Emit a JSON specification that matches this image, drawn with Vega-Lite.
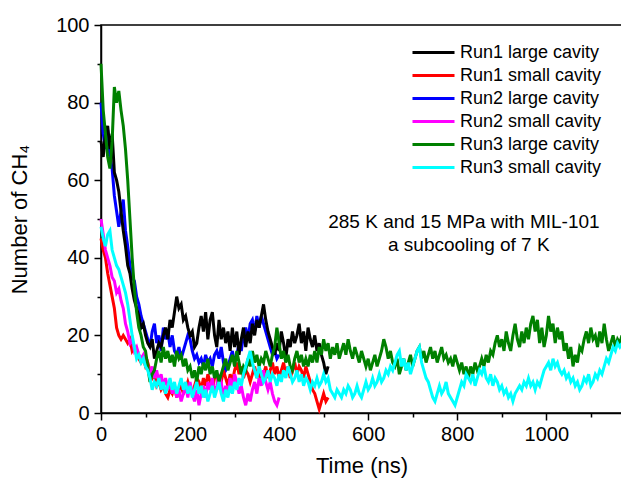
{
  "$schema": "https://vega.github.io/schema/vega-lite/v6.json",
  "width": 521,
  "height": 388,
  "autosize": "none",
  "padding": {"left": 101, "top": 25, "right": 0, "bottom": 67},
  "background": "white",
  "config": {
    "font": "Liberation Sans",
    "view": {"stroke": "black", "strokeWidth": 1.5},
    "axis": {"grid": false, "domainColor": "black", "domainWidth": 1.5, "tickColor": "black", "tickWidth": 1.5, "labelColor": "black", "titleColor": "black", "labelFont": "Liberation Sans", "titleFont": "Liberation Sans", "labelFontSize": 20, "titleFontSize": 22, "titleFontWeight": "normal"},
    "legend": {"labelFont": "Liberation Sans"}
  },
  "encoding": {
    "x": {"field": "t", "type": "quantitative", "scale": {"domain": [0, 1170], "nice": false, "zero": false}, "axis": {"title": "Time (ns)", "format": "d", "values": [0,100,200,300,400,500,600,700,800,900,1000,1100], "labelExpr": "datum.value % 200 === 0 ? datum.label : ''", "tickSize": {"condition": {"test": "datum.value % 200 === 0", "value": 7}, "value": 4}, "labelPadding": 4, "titlePadding": 11, "labelFlush": false, "labelOverlap": false}},
    "y": {"field": "n", "type": "quantitative", "scale": {"domain": [0, 100], "nice": false}, "axis": {"title": "Number of CH₄", "values": [0,10,20,30,40,50,60,70,80,90,100], "labelExpr": "datum.value % 20 === 0 ? datum.label : ''", "tickSize": {"condition": {"test": "datum.value % 20 === 0", "value": 7}, "value": 4}, "labelPadding": 5, "titlePadding": 24, "labelOverlap": false}}
  },
  "layer": [
    {
      "data": {"values": [{"t":0,"n":80},{"t":5,"n":72},{"t":10,"n":68},{"t":15,"n":73},{"t":20,"n":66},{"t":25,"n":63},{"t":30,"n":56},{"t":35,"n":52},{"t":40,"n":48},{"t":45,"n":52},{"t":50,"n":55},{"t":55,"n":47},{"t":60,"n":43},{"t":65,"n":38},{"t":70,"n":35},{"t":75,"n":34},{"t":80,"n":30},{"t":85,"n":28},{"t":90,"n":25},{"t":95,"n":23},{"t":100,"n":21},{"t":105,"n":19},{"t":110,"n":17},{"t":115,"n":21},{"t":120,"n":23},{"t":125,"n":18},{"t":130,"n":20},{"t":135,"n":16},{"t":140,"n":22},{"t":145,"n":19},{"t":150,"n":21},{"t":155,"n":17},{"t":160,"n":20},{"t":165,"n":16},{"t":170,"n":15},{"t":175,"n":17},{"t":180,"n":14},{"t":185,"n":16},{"t":190,"n":18},{"t":195,"n":20},{"t":200,"n":19},{"t":205,"n":16},{"t":210,"n":14},{"t":215,"n":15},{"t":220,"n":13},{"t":225,"n":14},{"t":230,"n":12},{"t":235,"n":15},{"t":240,"n":13},{"t":245,"n":14},{"t":250,"n":12},{"t":255,"n":15},{"t":260,"n":16},{"t":265,"n":14},{"t":270,"n":17},{"t":275,"n":13},{"t":280,"n":11},{"t":285,"n":12},{"t":290,"n":14},{"t":295,"n":16},{"t":300,"n":13},{"t":305,"n":15},{"t":310,"n":18},{"t":315,"n":16},{"t":320,"n":20},{"t":325,"n":22},{"t":330,"n":19},{"t":335,"n":23},{"t":340,"n":24},{"t":345,"n":21},{"t":350,"n":25},{"t":355,"n":22},{"t":360,"n":25},{"t":365,"n":23},{"t":370,"n":21},{"t":375,"n":19},{"t":380,"n":17},{"t":385,"n":15},{"t":390,"n":16},{"t":395,"n":14},{"t":400,"n":15}]},
      "mark": {"type": "line", "strokeWidth": 3},
      "encoding": {"color": {"datum": "Run2 large cavity", "type": "nominal", "scale": {"domain": ["Run1 large cavity","Run1 small cavity","Run2 large cavity","Run2 small cavity","Run3 large cavity","Run3 small cavity"], "range": ["#000000","#ff0000","#0000ff","#ff00ff","#008000","#00ffff"]}, "legend": {"title": null, "orient": "none", "legendX": 320, "legendY": 15, "symbolType": "M-1.91,0H1.91", "symbolSize": 484, "symbolStrokeWidth": 3, "labelFontSize": 18, "labelColor": "black", "labelOffset": 14, "rowPadding": 1, "padding": 0}}}
    },
    {
      "data": {"values": [{"t":0,"n":70},{"t":5,"n":66},{"t":10,"n":72},{"t":15,"n":74},{"t":20,"n":68},{"t":25,"n":72},{"t":30,"n":62},{"t":35,"n":60},{"t":40,"n":57},{"t":45,"n":52},{"t":50,"n":47},{"t":55,"n":43},{"t":60,"n":38},{"t":65,"n":36},{"t":70,"n":32},{"t":75,"n":29},{"t":80,"n":27},{"t":85,"n":25},{"t":90,"n":22},{"t":95,"n":23},{"t":100,"n":20},{"t":105,"n":18},{"t":110,"n":17},{"t":115,"n":19},{"t":120,"n":14},{"t":125,"n":16},{"t":130,"n":18},{"t":135,"n":17},{"t":140,"n":20},{"t":145,"n":22},{"t":150,"n":19},{"t":155,"n":24},{"t":160,"n":22},{"t":165,"n":26},{"t":170,"n":30},{"t":175,"n":27},{"t":180,"n":28},{"t":185,"n":24},{"t":190,"n":25},{"t":195,"n":22},{"t":200,"n":20},{"t":205,"n":21},{"t":210,"n":17},{"t":215,"n":18},{"t":220,"n":22},{"t":225,"n":25},{"t":230,"n":21},{"t":235,"n":26},{"t":240,"n":19},{"t":245,"n":24},{"t":250,"n":26},{"t":255,"n":20},{"t":260,"n":17},{"t":265,"n":24},{"t":270,"n":19},{"t":275,"n":22},{"t":280,"n":18},{"t":285,"n":21},{"t":290,"n":16},{"t":295,"n":22},{"t":300,"n":17},{"t":305,"n":21},{"t":310,"n":15},{"t":315,"n":19},{"t":320,"n":22},{"t":325,"n":17},{"t":330,"n":21},{"t":335,"n":18},{"t":340,"n":23},{"t":345,"n":20},{"t":350,"n":24},{"t":355,"n":22},{"t":360,"n":25},{"t":365,"n":28},{"t":370,"n":24},{"t":375,"n":21},{"t":380,"n":19},{"t":385,"n":17},{"t":390,"n":15},{"t":395,"n":18},{"t":400,"n":16},{"t":405,"n":21},{"t":410,"n":18},{"t":415,"n":14},{"t":420,"n":19},{"t":425,"n":17},{"t":430,"n":21},{"t":435,"n":18},{"t":440,"n":20},{"t":445,"n":23},{"t":450,"n":18},{"t":455,"n":21},{"t":460,"n":16},{"t":465,"n":22},{"t":470,"n":19},{"t":475,"n":17},{"t":480,"n":20},{"t":485,"n":16},{"t":490,"n":18},{"t":495,"n":15},{"t":500,"n":13},{"t":505,"n":10},{"t":510,"n":12}]},
      "mark": {"type": "line", "strokeWidth": 3},
      "encoding": {"color": {"datum": "Run1 large cavity", "type": "nominal"}}
    },
    {
      "data": {"values": [{"t":0,"n":45},{"t":5,"n":42},{"t":10,"n":40},{"t":15,"n":36},{"t":20,"n":33},{"t":25,"n":30},{"t":30,"n":27},{"t":35,"n":22},{"t":40,"n":20},{"t":45,"n":19},{"t":50,"n":20},{"t":55,"n":19},{"t":60,"n":18},{"t":65,"n":19},{"t":70,"n":16},{"t":75,"n":17},{"t":80,"n":15},{"t":85,"n":14},{"t":90,"n":13},{"t":95,"n":14},{"t":100,"n":12},{"t":105,"n":13},{"t":110,"n":11},{"t":115,"n":9},{"t":120,"n":10},{"t":125,"n":7},{"t":130,"n":8},{"t":135,"n":6},{"t":140,"n":7},{"t":145,"n":5},{"t":150,"n":4},{"t":155,"n":6},{"t":160,"n":5},{"t":165,"n":7},{"t":170,"n":4},{"t":175,"n":6},{"t":180,"n":7},{"t":185,"n":5},{"t":190,"n":6},{"t":195,"n":8},{"t":200,"n":6},{"t":205,"n":5},{"t":210,"n":7},{"t":215,"n":9},{"t":220,"n":8},{"t":225,"n":6},{"t":230,"n":9},{"t":235,"n":7},{"t":240,"n":10},{"t":245,"n":8},{"t":250,"n":6},{"t":255,"n":9},{"t":260,"n":10},{"t":265,"n":7},{"t":270,"n":8},{"t":275,"n":11},{"t":280,"n":9},{"t":285,"n":7},{"t":290,"n":10},{"t":295,"n":8},{"t":300,"n":11},{"t":305,"n":13},{"t":310,"n":10},{"t":315,"n":12},{"t":320,"n":9},{"t":325,"n":11},{"t":330,"n":10},{"t":335,"n":8},{"t":340,"n":10},{"t":345,"n":12},{"t":350,"n":9},{"t":355,"n":11},{"t":360,"n":8},{"t":365,"n":10},{"t":370,"n":12},{"t":375,"n":9},{"t":380,"n":11},{"t":385,"n":13},{"t":390,"n":10},{"t":395,"n":12},{"t":400,"n":9},{"t":405,"n":11},{"t":410,"n":13},{"t":415,"n":10},{"t":420,"n":12},{"t":425,"n":9},{"t":430,"n":11},{"t":435,"n":13},{"t":440,"n":10},{"t":445,"n":12},{"t":450,"n":11},{"t":455,"n":9},{"t":460,"n":12},{"t":465,"n":10},{"t":470,"n":8},{"t":475,"n":6},{"t":480,"n":5},{"t":485,"n":3},{"t":490,"n":1},{"t":495,"n":3},{"t":500,"n":5},{"t":505,"n":3},{"t":510,"n":4}]},
      "mark": {"type": "line", "strokeWidth": 3},
      "encoding": {"color": {"datum": "Run1 small cavity", "type": "nominal"}}
    },
    {
      "data": {"values": [{"t":0,"n":50},{"t":5,"n":46},{"t":10,"n":42},{"t":15,"n":40},{"t":20,"n":38},{"t":25,"n":35},{"t":30,"n":34},{"t":35,"n":31},{"t":40,"n":32},{"t":45,"n":29},{"t":50,"n":27},{"t":55,"n":23},{"t":60,"n":21},{"t":65,"n":18},{"t":70,"n":19},{"t":75,"n":16},{"t":80,"n":17},{"t":85,"n":15},{"t":90,"n":14},{"t":95,"n":15},{"t":100,"n":13},{"t":105,"n":12},{"t":110,"n":10},{"t":115,"n":12},{"t":120,"n":9},{"t":125,"n":11},{"t":130,"n":8},{"t":135,"n":10},{"t":140,"n":7},{"t":145,"n":9},{"t":150,"n":6},{"t":155,"n":8},{"t":160,"n":5},{"t":165,"n":7},{"t":170,"n":4},{"t":175,"n":6},{"t":180,"n":3},{"t":185,"n":5},{"t":190,"n":7},{"t":195,"n":4},{"t":200,"n":8},{"t":205,"n":5},{"t":210,"n":3},{"t":215,"n":6},{"t":220,"n":2},{"t":225,"n":5},{"t":230,"n":7},{"t":235,"n":4},{"t":240,"n":8},{"t":245,"n":6},{"t":250,"n":9},{"t":255,"n":5},{"t":260,"n":7},{"t":265,"n":10},{"t":270,"n":8},{"t":275,"n":4},{"t":280,"n":7},{"t":285,"n":5},{"t":290,"n":9},{"t":295,"n":6},{"t":300,"n":10},{"t":305,"n":8},{"t":310,"n":5},{"t":315,"n":7},{"t":320,"n":4},{"t":325,"n":2},{"t":330,"n":5},{"t":335,"n":3},{"t":340,"n":6},{"t":345,"n":8},{"t":350,"n":5},{"t":355,"n":9},{"t":360,"n":7},{"t":365,"n":11},{"t":370,"n":8},{"t":375,"n":6},{"t":380,"n":8},{"t":385,"n":5},{"t":390,"n":3},{"t":395,"n":2},{"t":400,"n":4}]},
      "mark": {"type": "line", "strokeWidth": 3},
      "encoding": {"color": {"datum": "Run2 small cavity", "type": "nominal"}}
    },
    {
      "data": {"values": [{"t":0,"n":90},{"t":5,"n":78},{"t":10,"n":72},{"t":15,"n":66},{"t":20,"n":63},{"t":25,"n":70},{"t":30,"n":84},{"t":35,"n":80},{"t":40,"n":83},{"t":45,"n":78},{"t":50,"n":74},{"t":55,"n":68},{"t":60,"n":60},{"t":65,"n":50},{"t":70,"n":40},{"t":75,"n":32},{"t":80,"n":26},{"t":85,"n":22},{"t":90,"n":20},{"t":95,"n":17},{"t":100,"n":16},{"t":105,"n":12},{"t":110,"n":8},{"t":115,"n":10},{"t":120,"n":11},{"t":125,"n":14},{"t":130,"n":16},{"t":135,"n":13},{"t":140,"n":17},{"t":145,"n":14},{"t":150,"n":16},{"t":155,"n":13},{"t":160,"n":15},{"t":165,"n":12},{"t":170,"n":16},{"t":175,"n":14},{"t":180,"n":15},{"t":185,"n":12},{"t":190,"n":14},{"t":195,"n":11},{"t":200,"n":12},{"t":205,"n":9},{"t":210,"n":11},{"t":215,"n":8},{"t":220,"n":12},{"t":225,"n":10},{"t":230,"n":13},{"t":235,"n":11},{"t":240,"n":14},{"t":245,"n":10},{"t":250,"n":12},{"t":255,"n":9},{"t":260,"n":11},{"t":265,"n":8},{"t":270,"n":10},{"t":275,"n":12},{"t":280,"n":14},{"t":285,"n":11},{"t":290,"n":13},{"t":295,"n":15},{"t":300,"n":12},{"t":305,"n":16},{"t":310,"n":13},{"t":315,"n":10},{"t":320,"n":12},{"t":325,"n":11},{"t":330,"n":14},{"t":335,"n":12},{"t":340,"n":16},{"t":345,"n":13},{"t":350,"n":15},{"t":355,"n":12},{"t":360,"n":14},{"t":365,"n":13},{"t":370,"n":16},{"t":375,"n":14},{"t":380,"n":12},{"t":385,"n":15},{"t":390,"n":17},{"t":395,"n":22},{"t":400,"n":18},{"t":405,"n":14},{"t":410,"n":16},{"t":415,"n":13},{"t":420,"n":15},{"t":425,"n":12},{"t":430,"n":11},{"t":435,"n":14},{"t":440,"n":16},{"t":445,"n":13},{"t":450,"n":15},{"t":455,"n":12},{"t":460,"n":14},{"t":465,"n":12},{"t":470,"n":15},{"t":475,"n":13},{"t":480,"n":16},{"t":485,"n":13},{"t":490,"n":17},{"t":495,"n":15},{"t":500,"n":19},{"t":505,"n":16},{"t":510,"n":18},{"t":515,"n":14},{"t":520,"n":17},{"t":525,"n":15},{"t":530,"n":18},{"t":535,"n":14},{"t":540,"n":16},{"t":545,"n":18},{"t":550,"n":15},{"t":555,"n":19},{"t":560,"n":16},{"t":565,"n":14},{"t":570,"n":17},{"t":575,"n":15},{"t":580,"n":13},{"t":585,"n":16},{"t":590,"n":14},{"t":595,"n":12},{"t":600,"n":14},{"t":605,"n":11},{"t":610,"n":13},{"t":615,"n":15},{"t":620,"n":12},{"t":625,"n":14},{"t":630,"n":16},{"t":635,"n":19},{"t":640,"n":17},{"t":645,"n":14},{"t":650,"n":16},{"t":655,"n":13},{"t":660,"n":12},{"t":665,"n":14},{"t":670,"n":10},{"t":675,"n":12},{"t":680,"n":14},{"t":685,"n":11},{"t":690,"n":13},{"t":695,"n":15},{"t":700,"n":12},{"t":705,"n":14},{"t":710,"n":16},{"t":715,"n":17},{"t":720,"n":14},{"t":725,"n":16},{"t":730,"n":13},{"t":735,"n":15},{"t":740,"n":17},{"t":745,"n":14},{"t":750,"n":16},{"t":755,"n":13},{"t":760,"n":15},{"t":765,"n":17},{"t":770,"n":14},{"t":775,"n":15},{"t":780,"n":13},{"t":785,"n":14},{"t":790,"n":12},{"t":795,"n":15},{"t":800,"n":13},{"t":805,"n":11},{"t":810,"n":13},{"t":815,"n":10},{"t":820,"n":12},{"t":825,"n":9},{"t":830,"n":12},{"t":835,"n":10},{"t":840,"n":13},{"t":845,"n":11},{"t":850,"n":12},{"t":855,"n":14},{"t":860,"n":12},{"t":865,"n":15},{"t":870,"n":13},{"t":875,"n":16},{"t":880,"n":15},{"t":885,"n":18},{"t":890,"n":20},{"t":895,"n":17},{"t":900,"n":19},{"t":905,"n":16},{"t":910,"n":21},{"t":915,"n":18},{"t":920,"n":16},{"t":925,"n":20},{"t":930,"n":23},{"t":935,"n":19},{"t":940,"n":17},{"t":945,"n":21},{"t":950,"n":18},{"t":955,"n":22},{"t":960,"n":19},{"t":965,"n":23},{"t":970,"n":25},{"t":975,"n":21},{"t":980,"n":24},{"t":985,"n":18},{"t":990,"n":22},{"t":995,"n":17},{"t":1000,"n":20},{"t":1005,"n":25},{"t":1010,"n":21},{"t":1015,"n":23},{"t":1020,"n":18},{"t":1025,"n":22},{"t":1030,"n":19},{"t":1035,"n":21},{"t":1040,"n":16},{"t":1045,"n":18},{"t":1050,"n":14},{"t":1055,"n":17},{"t":1060,"n":12},{"t":1065,"n":15},{"t":1070,"n":13},{"t":1075,"n":17},{"t":1080,"n":16},{"t":1085,"n":19},{"t":1090,"n":21},{"t":1095,"n":18},{"t":1100,"n":22},{"t":1105,"n":19},{"t":1110,"n":20},{"t":1115,"n":17},{"t":1120,"n":21},{"t":1125,"n":18},{"t":1130,"n":23},{"t":1135,"n":19},{"t":1140,"n":16},{"t":1145,"n":18},{"t":1150,"n":20},{"t":1155,"n":17},{"t":1160,"n":19},{"t":1165,"n":18},{"t":1170,"n":20}]},
      "mark": {"type": "line", "strokeWidth": 3},
      "encoding": {"color": {"datum": "Run3 large cavity", "type": "nominal"}}
    },
    {
      "data": {"values": [{"t":0,"n":48},{"t":5,"n":45},{"t":10,"n":43},{"t":15,"n":46},{"t":20,"n":47},{"t":25,"n":42},{"t":30,"n":40},{"t":35,"n":38},{"t":40,"n":37},{"t":45,"n":35},{"t":50,"n":33},{"t":55,"n":31},{"t":60,"n":28},{"t":65,"n":24},{"t":70,"n":20},{"t":75,"n":17},{"t":80,"n":14},{"t":85,"n":15},{"t":90,"n":13},{"t":95,"n":14},{"t":100,"n":12},{"t":105,"n":11},{"t":110,"n":9},{"t":115,"n":6},{"t":120,"n":8},{"t":125,"n":7},{"t":130,"n":9},{"t":135,"n":6},{"t":140,"n":8},{"t":145,"n":5},{"t":150,"n":7},{"t":155,"n":9},{"t":160,"n":6},{"t":165,"n":8},{"t":170,"n":5},{"t":175,"n":7},{"t":180,"n":9},{"t":185,"n":6},{"t":190,"n":8},{"t":195,"n":5},{"t":200,"n":7},{"t":205,"n":4},{"t":210,"n":6},{"t":215,"n":8},{"t":220,"n":5},{"t":225,"n":7},{"t":230,"n":4},{"t":235,"n":6},{"t":240,"n":3},{"t":245,"n":5},{"t":250,"n":7},{"t":255,"n":4},{"t":260,"n":6},{"t":265,"n":8},{"t":270,"n":5},{"t":275,"n":3},{"t":280,"n":6},{"t":285,"n":4},{"t":290,"n":7},{"t":295,"n":5},{"t":300,"n":8},{"t":305,"n":6},{"t":310,"n":9},{"t":315,"n":7},{"t":320,"n":10},{"t":325,"n":12},{"t":330,"n":14},{"t":335,"n":16},{"t":340,"n":13},{"t":345,"n":11},{"t":350,"n":9},{"t":355,"n":12},{"t":360,"n":10},{"t":365,"n":8},{"t":370,"n":9},{"t":375,"n":11},{"t":380,"n":8},{"t":385,"n":10},{"t":390,"n":9},{"t":395,"n":7},{"t":400,"n":10},{"t":405,"n":8},{"t":410,"n":11},{"t":415,"n":9},{"t":420,"n":12},{"t":425,"n":10},{"t":430,"n":8},{"t":435,"n":9},{"t":440,"n":11},{"t":445,"n":8},{"t":450,"n":10},{"t":455,"n":7},{"t":460,"n":9},{"t":465,"n":8},{"t":470,"n":6},{"t":475,"n":8},{"t":480,"n":7},{"t":485,"n":9},{"t":490,"n":7},{"t":495,"n":8},{"t":500,"n":10},{"t":505,"n":8},{"t":510,"n":9},{"t":515,"n":6},{"t":520,"n":5},{"t":525,"n":4},{"t":530,"n":6},{"t":535,"n":5},{"t":540,"n":4},{"t":545,"n":6},{"t":550,"n":5},{"t":555,"n":7},{"t":560,"n":6},{"t":565,"n":4},{"t":570,"n":5},{"t":575,"n":7},{"t":580,"n":5},{"t":585,"n":4},{"t":590,"n":6},{"t":595,"n":8},{"t":600,"n":6},{"t":605,"n":7},{"t":610,"n":9},{"t":615,"n":7},{"t":620,"n":8},{"t":625,"n":10},{"t":630,"n":8},{"t":635,"n":9},{"t":640,"n":11},{"t":645,"n":10},{"t":650,"n":12},{"t":655,"n":11},{"t":660,"n":13},{"t":665,"n":15},{"t":670,"n":16},{"t":675,"n":12},{"t":680,"n":14},{"t":685,"n":11},{"t":690,"n":13},{"t":695,"n":10},{"t":700,"n":12},{"t":705,"n":14},{"t":710,"n":16},{"t":715,"n":17},{"t":720,"n":13},{"t":725,"n":11},{"t":730,"n":9},{"t":735,"n":8},{"t":740,"n":6},{"t":745,"n":4},{"t":750,"n":3},{"t":755,"n":5},{"t":760,"n":7},{"t":765,"n":5},{"t":770,"n":6},{"t":775,"n":8},{"t":780,"n":5},{"t":785,"n":4},{"t":790,"n":3},{"t":795,"n":2},{"t":800,"n":4},{"t":805,"n":6},{"t":810,"n":8},{"t":815,"n":7},{"t":820,"n":10},{"t":825,"n":9},{"t":830,"n":8},{"t":835,"n":10},{"t":840,"n":7},{"t":845,"n":9},{"t":850,"n":11},{"t":855,"n":10},{"t":860,"n":12},{"t":865,"n":9},{"t":870,"n":8},{"t":875,"n":10},{"t":880,"n":7},{"t":885,"n":9},{"t":890,"n":8},{"t":895,"n":6},{"t":900,"n":7},{"t":905,"n":5},{"t":910,"n":6},{"t":915,"n":4},{"t":920,"n":5},{"t":925,"n":3},{"t":930,"n":5},{"t":935,"n":6},{"t":940,"n":7},{"t":945,"n":6},{"t":950,"n":8},{"t":955,"n":7},{"t":960,"n":9},{"t":965,"n":7},{"t":970,"n":8},{"t":975,"n":6},{"t":980,"n":8},{"t":985,"n":7},{"t":990,"n":9},{"t":995,"n":11},{"t":1000,"n":12},{"t":1005,"n":13},{"t":1010,"n":11},{"t":1015,"n":14},{"t":1020,"n":12},{"t":1025,"n":13},{"t":1030,"n":11},{"t":1035,"n":10},{"t":1040,"n":11},{"t":1045,"n":9},{"t":1050,"n":10},{"t":1055,"n":8},{"t":1060,"n":9},{"t":1065,"n":7},{"t":1070,"n":8},{"t":1075,"n":6},{"t":1080,"n":7},{"t":1085,"n":9},{"t":1090,"n":8},{"t":1095,"n":10},{"t":1100,"n":7},{"t":1105,"n":8},{"t":1110,"n":10},{"t":1115,"n":9},{"t":1120,"n":11},{"t":1125,"n":10},{"t":1130,"n":12},{"t":1135,"n":14},{"t":1140,"n":13},{"t":1145,"n":15},{"t":1150,"n":17},{"t":1155,"n":16},{"t":1160,"n":18},{"t":1165,"n":17},{"t":1170,"n":18}]},
      "mark": {"type": "line", "strokeWidth": 3},
      "encoding": {"color": {"datum": "Run3 small cavity", "type": "nominal"}}
    },
    {
      "data": {"values": [{"t":815,"n":49.2,"label":"285 K and 15 MPa with MIL-101"},{"t":826,"n":43.3,"label":"a subcooling of 7 K"}]},
      "mark": {"type": "text", "fontSize": 19, "align": "center", "baseline": "middle", "color": "black", "font": "Liberation Sans"},
      "encoding": {"text": {"field": "label"}}
    }
  ]
}
